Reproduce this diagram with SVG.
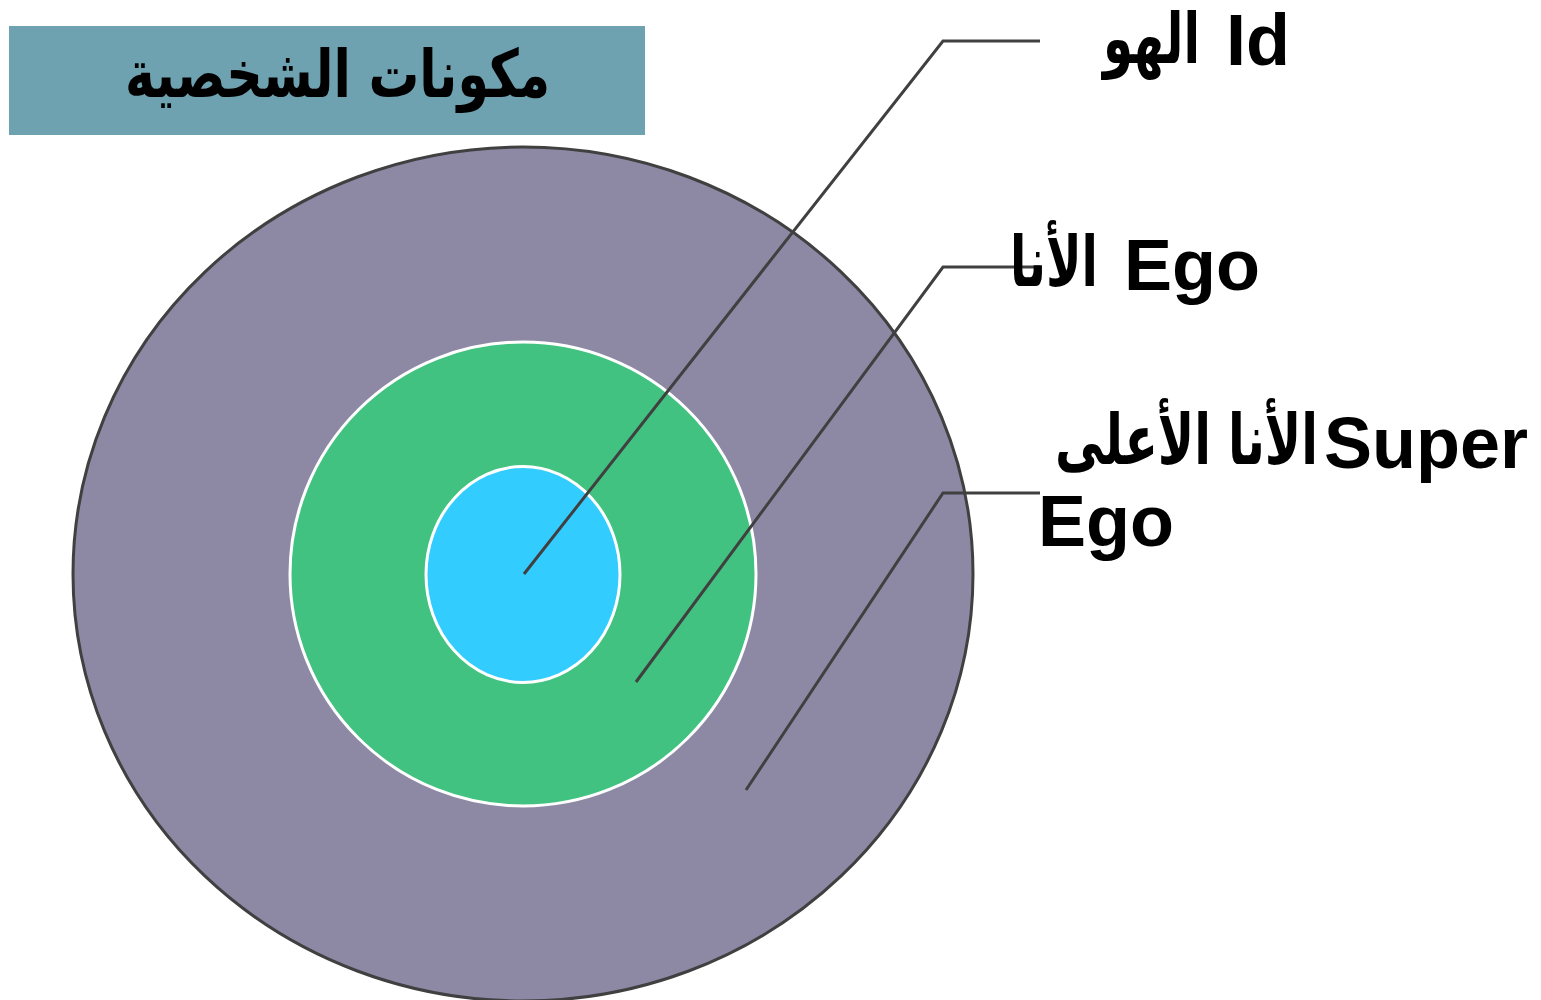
<svg xmlns="http://www.w3.org/2000/svg" width="1541" height="1000" viewBox="0 0 1541 1000">
<style>
.lbl{font-family:"Liberation Sans","DejaVu Sans",sans-serif;font-weight:bold;font-size:72px;fill:#000}
.ar{font-family:"DejaVu Sans",sans-serif;font-weight:bold;font-size:70px;fill:#000}
.conn{fill:none;stroke:#404040;stroke-width:3}
</style>
<rect width="1541" height="1000" fill="#ffffff"/>
<g id="title">
<rect x="9" y="26" width="636" height="109" fill="#6fa2b1"/>
<text x="125" y="97" textLength="425" lengthAdjust="spacingAndGlyphs" font-family="'DejaVu Sans',sans-serif" font-weight="bold" font-size="66" fill="#000">مكونات الشخصية</text>
</g>
<g id="superego">
<ellipse cx="523" cy="574" rx="450" ry="427" fill="#8d89a5" stroke="#404040" stroke-width="3"/>
</g>
<g id="ego">
<ellipse cx="523" cy="574" rx="233" ry="232" fill="#41c280" stroke="#ffffff" stroke-width="3"/>
</g>
<g id="id">
<ellipse cx="523" cy="574.5" rx="97" ry="108" fill="#33ccff" stroke="#ffffff" stroke-width="3"/>
</g>
<g id="connectors">
<polyline class="conn" points="524,574 943,41 1040,41"/>
<polyline class="conn" points="636,682 943,267 1040,267"/>
<polyline class="conn" points="746,790 943,493 1040,493"/>
</g>
<g id="label-id">
<text class="ar" x="1103" y="63" textLength="97" lengthAdjust="spacingAndGlyphs">الهو</text>
<text class="lbl" x="1290" y="65" text-anchor="end">Id</text>
</g>
<g id="label-ego">
<text class="ar" x="1010" y="286" textLength="88" lengthAdjust="spacingAndGlyphs">الأنا</text>
<text class="lbl" x="1260" y="290" text-anchor="end">Ego</text>
</g>
<g id="label-superego">
<text class="ar" x="1055" y="464" textLength="263" lengthAdjust="spacingAndGlyphs">الأنا الأعلى</text>
<text class="lbl" x="1528" y="468" text-anchor="end">Super</text>
<text class="lbl" x="1038" y="546">Ego</text>
</g>
</svg>
